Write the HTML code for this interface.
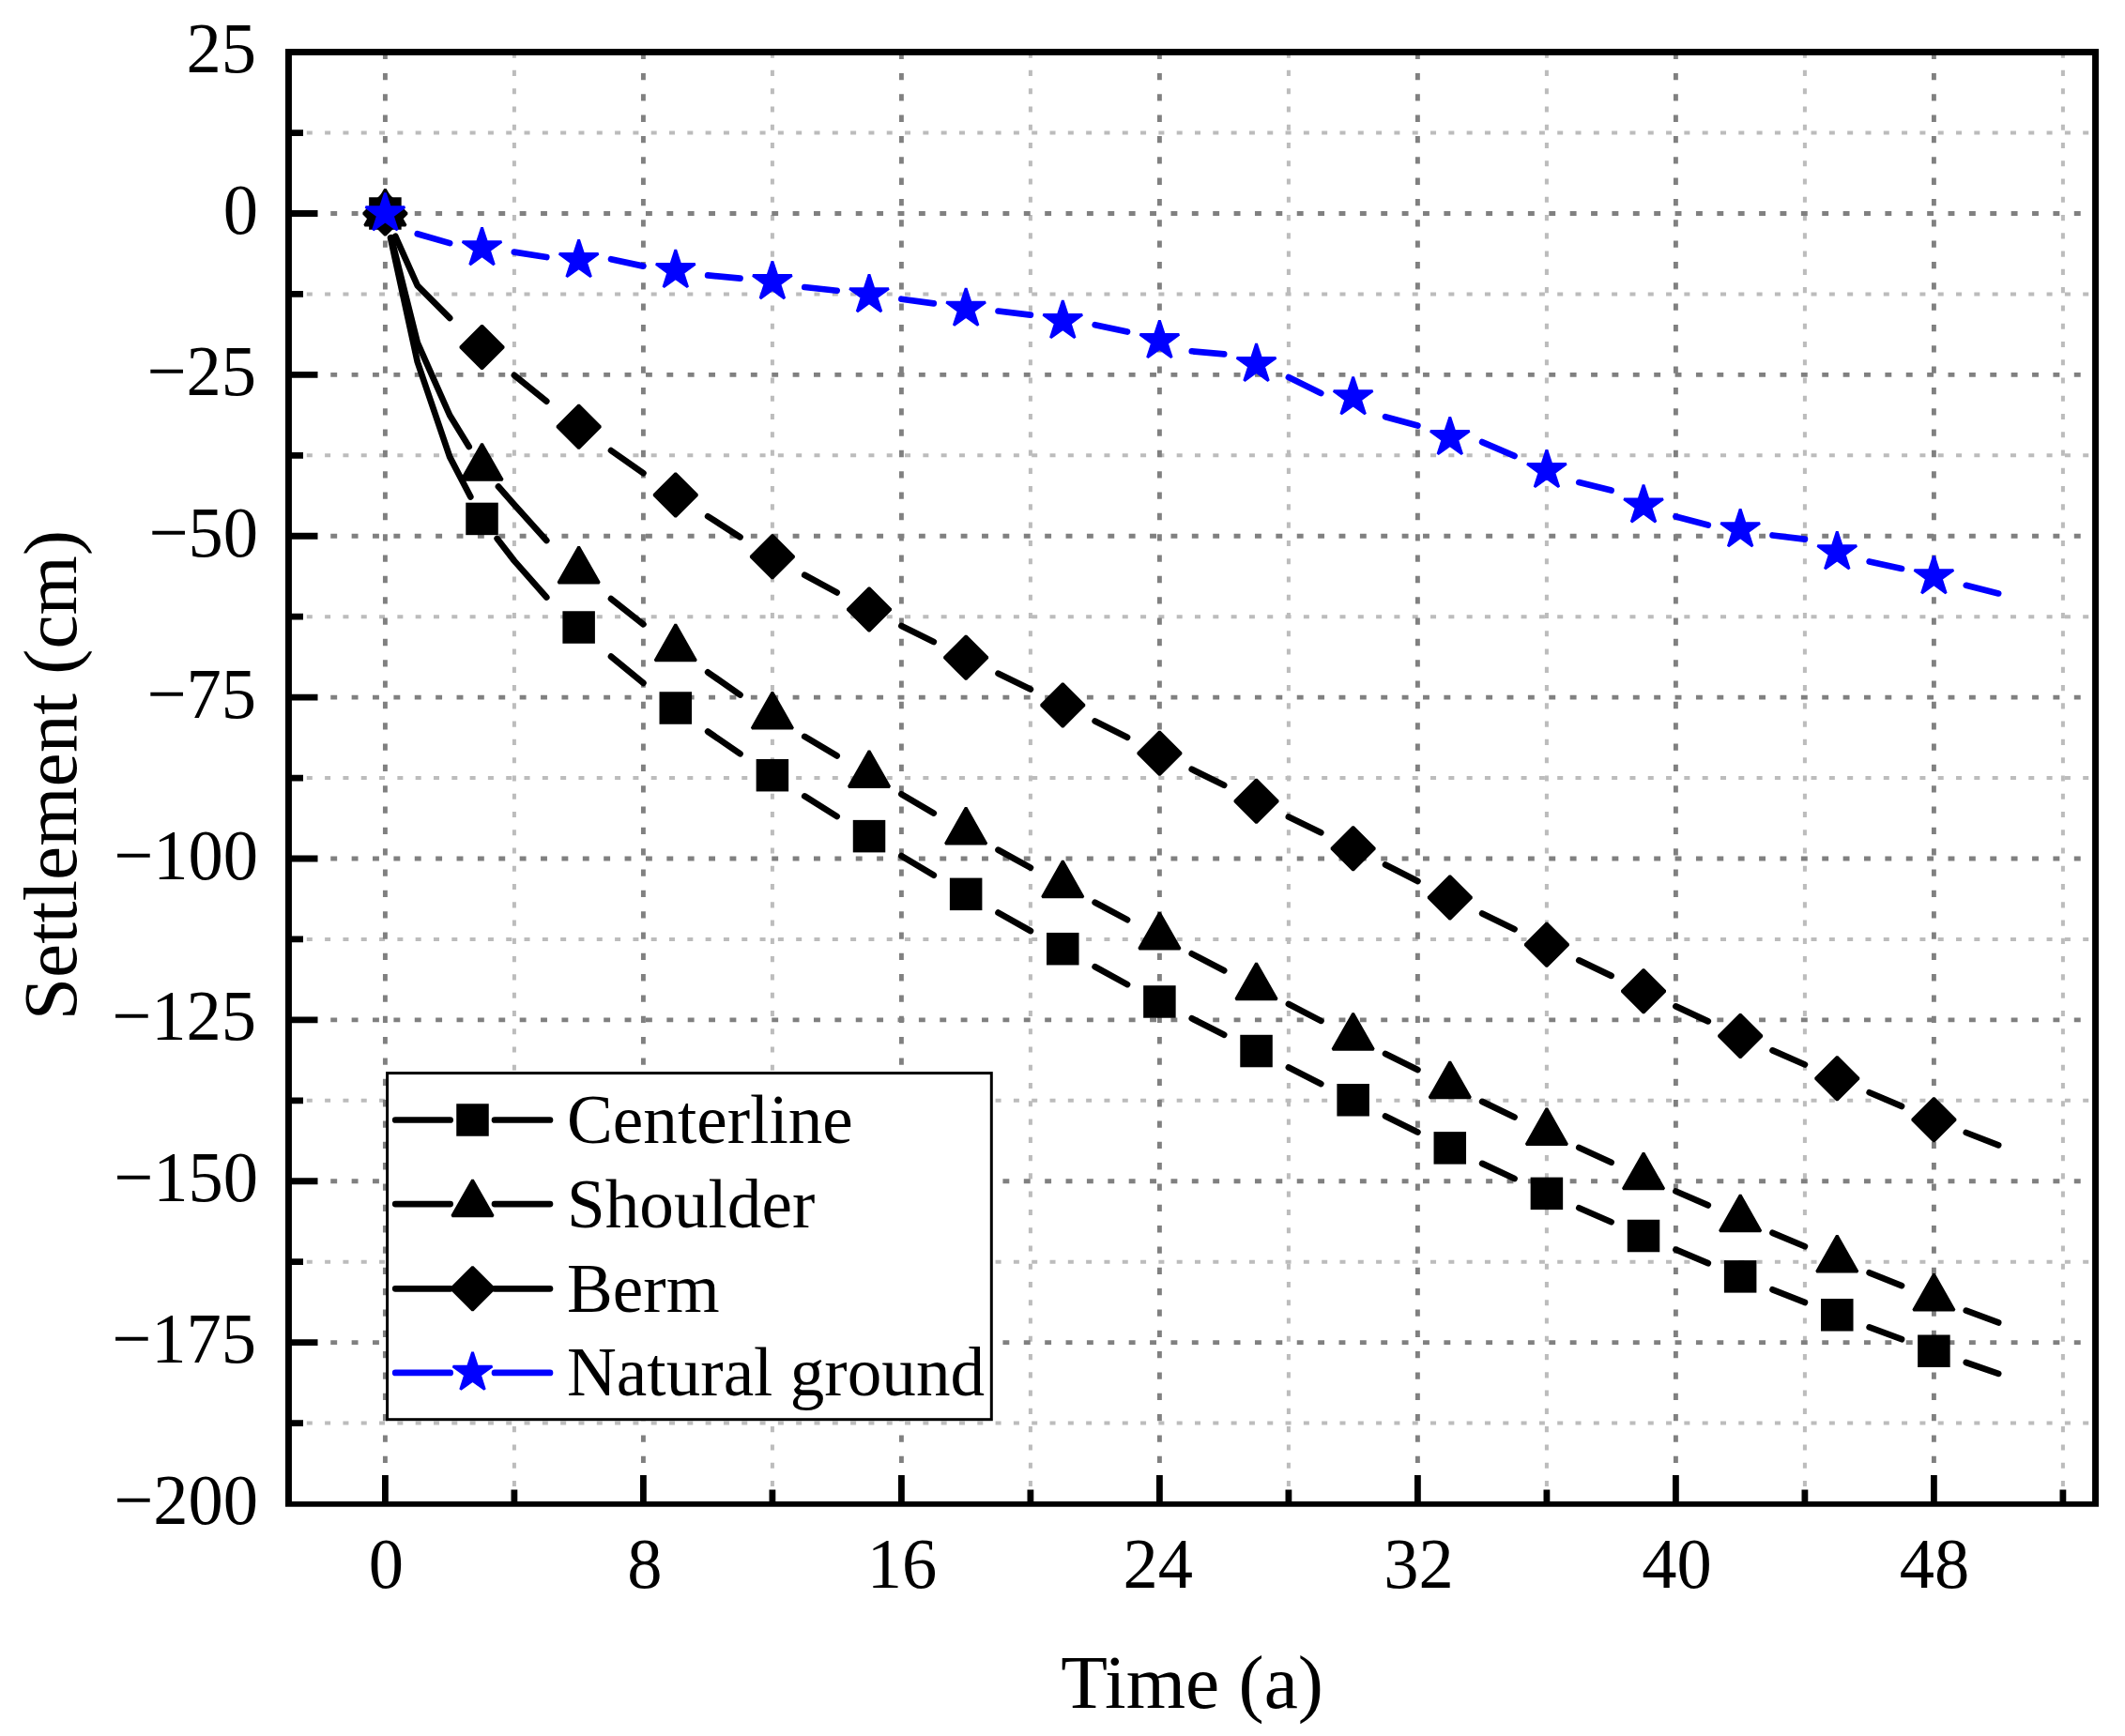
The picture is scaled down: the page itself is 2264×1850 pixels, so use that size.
<!DOCTYPE html>
<html><head><meta charset="utf-8"><title>Settlement vs Time</title>
<style>html,body{margin:0;padding:0;background:#fff}svg{display:block}text{font-family:"Liberation Serif",serif;fill:#000}</style>
</head><body>
<svg width="2264" height="1850" viewBox="0 0 2264 1850">
<rect width="2264" height="1850" fill="#fff"/>
<g fill="none"><path d="M307.5 1516.56H2232.5" stroke="#bcbcbc" stroke-width="4.0" stroke-dasharray="6.0 13.31"/><path d="M307.5 1344.69H2232.5" stroke="#bcbcbc" stroke-width="4.0" stroke-dasharray="6.0 13.31"/><path d="M307.5 1172.81H2232.5" stroke="#bcbcbc" stroke-width="4.0" stroke-dasharray="6.0 13.31"/><path d="M307.5 1000.94H2232.5" stroke="#bcbcbc" stroke-width="4.0" stroke-dasharray="6.0 13.31"/><path d="M307.5 829.06H2232.5" stroke="#bcbcbc" stroke-width="4.0" stroke-dasharray="6.0 13.31"/><path d="M307.5 657.19H2232.5" stroke="#bcbcbc" stroke-width="4.0" stroke-dasharray="6.0 13.31"/><path d="M307.5 485.31H2232.5" stroke="#bcbcbc" stroke-width="4.0" stroke-dasharray="6.0 13.31"/><path d="M307.5 313.44H2232.5" stroke="#bcbcbc" stroke-width="4.0" stroke-dasharray="6.0 13.31"/><path d="M307.5 141.56H2232.5" stroke="#bcbcbc" stroke-width="4.0" stroke-dasharray="6.0 13.31"/><path d="M547.90 55.6V1602.9" stroke="#bcbcbc" stroke-width="4.0" stroke-dasharray="6.1 13.17"/><path d="M822.90 55.6V1602.9" stroke="#bcbcbc" stroke-width="4.0" stroke-dasharray="6.1 13.17"/><path d="M1097.90 55.6V1602.9" stroke="#bcbcbc" stroke-width="4.0" stroke-dasharray="6.1 13.17"/><path d="M1372.90 55.6V1602.9" stroke="#bcbcbc" stroke-width="4.0" stroke-dasharray="6.1 13.17"/><path d="M1647.90 55.6V1602.9" stroke="#bcbcbc" stroke-width="4.0" stroke-dasharray="6.1 13.17"/><path d="M1922.90 55.6V1602.9" stroke="#bcbcbc" stroke-width="4.0" stroke-dasharray="6.1 13.17"/><path d="M2197.90 55.6V1602.9" stroke="#bcbcbc" stroke-width="4.0" stroke-dasharray="6.1 13.17"/><path d="M307.5 1430.62H2232.5" stroke="#808080" stroke-width="4.9" stroke-dasharray="6.9 15.48"/><path d="M307.5 1258.75H2232.5" stroke="#808080" stroke-width="4.9" stroke-dasharray="6.9 15.48"/><path d="M307.5 1086.88H2232.5" stroke="#808080" stroke-width="4.9" stroke-dasharray="6.9 15.48"/><path d="M307.5 915.00H2232.5" stroke="#808080" stroke-width="4.9" stroke-dasharray="6.9 15.48"/><path d="M307.5 743.12H2232.5" stroke="#808080" stroke-width="4.9" stroke-dasharray="6.9 15.48"/><path d="M307.5 571.25H2232.5" stroke="#808080" stroke-width="4.9" stroke-dasharray="6.9 15.48"/><path d="M307.5 399.38H2232.5" stroke="#808080" stroke-width="4.9" stroke-dasharray="6.9 15.48"/><path d="M307.5 227.50H2232.5" stroke="#808080" stroke-width="4.9" stroke-dasharray="6.9 15.48"/><path d="M410.40 55.6V1602.9" stroke="#808080" stroke-width="4.9" stroke-dasharray="7.3 15.03"/><path d="M685.40 55.6V1602.9" stroke="#808080" stroke-width="4.9" stroke-dasharray="7.3 15.03"/><path d="M960.40 55.6V1602.9" stroke="#808080" stroke-width="4.9" stroke-dasharray="7.3 15.03"/><path d="M1235.40 55.6V1602.9" stroke="#808080" stroke-width="4.9" stroke-dasharray="7.3 15.03"/><path d="M1510.40 55.6V1602.9" stroke="#808080" stroke-width="4.9" stroke-dasharray="7.3 15.03"/><path d="M1785.40 55.6V1602.9" stroke="#808080" stroke-width="4.9" stroke-dasharray="7.3 15.03"/><path d="M2060.40 55.6V1602.9" stroke="#808080" stroke-width="4.9" stroke-dasharray="7.3 15.03"/></g>
<path d="M307.5 1430.62h31M307.5 1258.75h31M307.5 1086.88h31M307.5 915.00h31M307.5 743.12h31M307.5 571.25h31M307.5 399.38h31M307.5 227.50h31M307.5 1516.56h15.5M307.5 1344.69h15.5M307.5 1172.81h15.5M307.5 1000.94h15.5M307.5 829.06h15.5M307.5 657.19h15.5M307.5 485.31h15.5M307.5 313.44h15.5M307.5 141.56h15.5M410.40 1602.9v-31M685.40 1602.9v-31M960.40 1602.9v-31M1235.40 1602.9v-31M1510.40 1602.9v-31M1785.40 1602.9v-31M2060.40 1602.9v-31M547.90 1602.9v-15.5M822.90 1602.9v-15.5M1097.90 1602.9v-15.5M1372.90 1602.9v-15.5M1647.90 1602.9v-15.5M1922.90 1602.9v-15.5M2197.90 1602.9v-15.5" stroke="#000" stroke-width="6.8" fill="none"/>
<path d="M303.97 52.02H2236V1605.75H303.97ZM310.95 58.91V1599.95H2229.05V58.91Z" fill="#000" fill-rule="evenodd"/>
<path d="M416.03 253.40L444.77 385.74L479.15 486.88L501.29 529.42M529.67 573.93L547.90 597.64L582.27 636.57M651.02 699.62L685.40 727.93M754.15 779.63L788.52 803.31M857.27 848.44L891.65 869.98M960.40 912.08L994.77 932.66M1063.53 972.63L1097.90 992.03M1166.65 1030.25L1201.03 1049.08M1269.78 1085.28L1304.15 1102.68M1372.90 1137.52L1407.28 1154.95M1476.03 1189.48L1510.40 1206.58M1579.15 1239.87L1613.53 1256.07M1682.28 1287.24L1716.65 1302.23M1785.40 1331.69L1819.78 1346.16M1888.53 1374.27L1922.90 1387.93M1991.65 1414.39L2026.03 1427.22M2094.78 1451.96L2129.15 1463.84" stroke="#000" stroke-width="6.7" fill="none" stroke-linecap="round" stroke-linejoin="round"/>
<rect x="394.55" y="211.65" width="31.7" height="31.7" fill="#000" stroke="#000" stroke-width="2.8"/><rect x="497.67" y="537.07" width="31.7" height="31.7" fill="#000" stroke="#000" stroke-width="2.8"/><rect x="600.80" y="652.66" width="31.7" height="31.7" fill="#000" stroke="#000" stroke-width="2.8"/><rect x="703.92" y="738.66" width="31.7" height="31.7" fill="#000" stroke="#000" stroke-width="2.8"/><rect x="807.05" y="810.35" width="31.7" height="31.7" fill="#000" stroke="#000" stroke-width="2.8"/><rect x="910.17" y="875.29" width="31.7" height="31.7" fill="#000" stroke="#000" stroke-width="2.8"/><rect x="1013.30" y="937.01" width="31.7" height="31.7" fill="#000" stroke="#000" stroke-width="2.8"/><rect x="1116.43" y="995.35" width="31.7" height="31.7" fill="#000" stroke="#000" stroke-width="2.8"/><rect x="1219.55" y="1051.63" width="31.7" height="31.7" fill="#000" stroke="#000" stroke-width="2.8"/><rect x="1322.68" y="1104.19" width="31.7" height="31.7" fill="#000" stroke="#000" stroke-width="2.8"/><rect x="1425.80" y="1156.41" width="31.7" height="31.7" fill="#000" stroke="#000" stroke-width="2.8"/><rect x="1528.93" y="1207.53" width="31.7" height="31.7" fill="#000" stroke="#000" stroke-width="2.8"/><rect x="1632.05" y="1256.03" width="31.7" height="31.7" fill="#000" stroke="#000" stroke-width="2.8"/><rect x="1735.18" y="1301.17" width="31.7" height="31.7" fill="#000" stroke="#000" stroke-width="2.8"/><rect x="1838.30" y="1344.51" width="31.7" height="31.7" fill="#000" stroke="#000" stroke-width="2.8"/><rect x="1941.43" y="1385.45" width="31.7" height="31.7" fill="#000" stroke="#000" stroke-width="2.8"/><rect x="2044.55" y="1423.91" width="31.7" height="31.7" fill="#000" stroke="#000" stroke-width="2.8"/>
<path d="M416.82 253.21L444.77 365.10L479.15 442.50L499.67 475.98M530.99 518.50L547.90 537.79L582.27 575.97M651.02 638.08L685.40 665.28M754.15 716.40L788.52 740.47M857.27 784.92L891.65 805.45M960.40 846.29L994.77 866.60M1063.53 905.73L1097.90 924.57M1166.65 961.77L1201.03 980.13M1269.78 1016.36L1304.15 1034.23M1372.90 1069.98L1407.28 1087.86M1476.03 1122.91L1510.40 1140.08M1579.15 1173.88L1613.53 1190.51M1682.28 1222.94L1716.65 1238.75M1785.40 1269.49L1819.78 1284.44M1888.53 1313.81L1922.90 1328.23M1991.65 1356.33L2026.03 1370.03M2094.78 1396.63L2129.15 1409.48" stroke="#000" stroke-width="6.7" fill="none" stroke-linecap="round" stroke-linejoin="round"/>
<path d="M410.40 201.80L432.20 240.20L388.60 240.20Z" fill="#000" stroke="#000" stroke-width="2.8" stroke-linejoin="bevel"/><path d="M513.52 472.87L535.32 511.27L491.72 511.27Z" fill="#000" stroke="#000" stroke-width="2.8" stroke-linejoin="bevel"/><path d="M616.65 582.61L638.45 621.01L594.85 621.01Z" fill="#000" stroke="#000" stroke-width="2.8" stroke-linejoin="bevel"/><path d="M719.77 665.51L741.57 703.91L697.98 703.91Z" fill="#000" stroke="#000" stroke-width="2.8" stroke-linejoin="bevel"/><path d="M822.90 737.68L844.70 776.08L801.10 776.08Z" fill="#000" stroke="#000" stroke-width="2.8" stroke-linejoin="bevel"/><path d="M926.02 800.08L947.82 838.48L904.23 838.48Z" fill="#000" stroke="#000" stroke-width="2.8" stroke-linejoin="bevel"/><path d="M1029.15 860.77L1050.95 899.17L1007.35 899.17Z" fill="#000" stroke="#000" stroke-width="2.8" stroke-linejoin="bevel"/><path d="M1132.28 917.53L1154.08 955.93L1110.48 955.93Z" fill="#000" stroke="#000" stroke-width="2.8" stroke-linejoin="bevel"/><path d="M1235.40 972.64L1257.20 1011.04L1213.60 1011.04Z" fill="#000" stroke="#000" stroke-width="2.8" stroke-linejoin="bevel"/><path d="M1338.53 1026.37L1360.33 1064.77L1316.73 1064.77Z" fill="#000" stroke="#000" stroke-width="2.8" stroke-linejoin="bevel"/><path d="M1441.65 1079.83L1463.45 1118.23L1419.85 1118.23Z" fill="#000" stroke="#000" stroke-width="2.8" stroke-linejoin="bevel"/><path d="M1544.78 1131.36L1566.58 1169.76L1522.98 1169.76Z" fill="#000" stroke="#000" stroke-width="2.8" stroke-linejoin="bevel"/><path d="M1647.90 1181.17L1669.70 1219.57L1626.10 1219.57Z" fill="#000" stroke="#000" stroke-width="2.8" stroke-linejoin="bevel"/><path d="M1751.03 1228.57L1772.83 1266.97L1729.23 1266.97Z" fill="#000" stroke="#000" stroke-width="2.8" stroke-linejoin="bevel"/><path d="M1854.15 1273.50L1875.95 1311.90L1832.35 1311.90Z" fill="#000" stroke="#000" stroke-width="2.8" stroke-linejoin="bevel"/><path d="M1957.28 1316.70L1979.08 1355.10L1935.48 1355.10Z" fill="#000" stroke="#000" stroke-width="2.8" stroke-linejoin="bevel"/><path d="M2060.40 1357.78L2082.20 1396.18L2038.60 1396.18Z" fill="#000" stroke="#000" stroke-width="2.8" stroke-linejoin="bevel"/>
<path d="M421.22 251.69L444.77 304.35L479.15 338.96M547.90 399.91L582.27 427.71M651.02 480.13L685.40 504.20M754.15 550.26L788.52 572.32M857.27 612.82L891.65 631.41M960.40 666.95L994.77 683.94M1063.53 717.73L1097.90 734.53M1166.65 768.50L1201.03 785.67M1269.78 819.85L1304.15 836.85M1372.90 870.55L1407.28 887.24M1476.03 921.50L1510.40 939.08M1579.15 973.40L1613.53 990.15M1682.28 1023.39L1716.65 1039.88M1785.40 1072.37L1819.78 1088.37M1888.53 1119.41L1922.90 1134.46M1991.65 1164.22L2026.03 1178.94M2094.78 1207.00L2129.15 1220.28" stroke="#000" stroke-width="6.7" fill="none" stroke-linecap="round" stroke-linejoin="round"/>
<path d="M410.40 204.50L433.40 227.50L410.40 250.50L387.40 227.50Z" fill="#000" stroke="#000" stroke-width="2.8" stroke-linejoin="bevel"/><path d="M513.52 347.05L536.52 370.05L513.52 393.05L490.52 370.05Z" fill="#000" stroke="#000" stroke-width="2.8" stroke-linejoin="bevel"/><path d="M616.65 431.82L639.65 454.82L616.65 477.82L593.65 454.82Z" fill="#000" stroke="#000" stroke-width="2.8" stroke-linejoin="bevel"/><path d="M719.77 504.47L742.77 527.47L719.77 550.47L696.77 527.47Z" fill="#000" stroke="#000" stroke-width="2.8" stroke-linejoin="bevel"/><path d="M822.90 570.24L845.90 593.24L822.90 616.24L799.90 593.24Z" fill="#000" stroke="#000" stroke-width="2.8" stroke-linejoin="bevel"/><path d="M926.02 626.45L949.02 649.45L926.02 672.45L903.02 649.45Z" fill="#000" stroke="#000" stroke-width="2.8" stroke-linejoin="bevel"/><path d="M1029.15 677.84L1052.15 700.84L1029.15 723.84L1006.15 700.84Z" fill="#000" stroke="#000" stroke-width="2.8" stroke-linejoin="bevel"/><path d="M1132.28 728.41L1155.28 751.41L1132.28 774.41L1109.28 751.41Z" fill="#000" stroke="#000" stroke-width="2.8" stroke-linejoin="bevel"/><path d="M1235.40 779.81L1258.40 802.81L1235.40 825.81L1212.40 802.81Z" fill="#000" stroke="#000" stroke-width="2.8" stroke-linejoin="bevel"/><path d="M1338.53 830.79L1361.53 853.79L1338.53 876.79L1315.53 853.79Z" fill="#000" stroke="#000" stroke-width="2.8" stroke-linejoin="bevel"/><path d="M1441.65 881.15L1464.65 904.15L1441.65 927.15L1418.65 904.15Z" fill="#000" stroke="#000" stroke-width="2.8" stroke-linejoin="bevel"/><path d="M1544.78 933.44L1567.78 956.44L1544.78 979.44L1521.78 956.44Z" fill="#000" stroke="#000" stroke-width="2.8" stroke-linejoin="bevel"/><path d="M1647.90 983.80L1670.90 1006.80L1647.90 1029.80L1624.90 1006.80Z" fill="#000" stroke="#000" stroke-width="2.8" stroke-linejoin="bevel"/><path d="M1751.03 1033.20L1774.03 1056.20L1751.03 1079.20L1728.03 1056.20Z" fill="#000" stroke="#000" stroke-width="2.8" stroke-linejoin="bevel"/><path d="M1854.15 1081.08L1877.15 1104.08L1854.15 1127.08L1831.15 1104.08Z" fill="#000" stroke="#000" stroke-width="2.8" stroke-linejoin="bevel"/><path d="M1957.28 1126.35L1980.28 1149.35L1957.28 1172.35L1934.28 1149.35Z" fill="#000" stroke="#000" stroke-width="2.8" stroke-linejoin="bevel"/><path d="M2060.40 1170.25L2083.40 1193.25L2060.40 1216.25L2037.40 1193.25Z" fill="#000" stroke="#000" stroke-width="2.8" stroke-linejoin="bevel"/>
<path d="M444.77 249.24L479.15 259.15M547.90 268.57L582.27 274.01M651.02 276.21L685.40 283.64M754.15 293.41L788.52 296.64M857.27 306.00L891.65 309.72M960.40 318.73L994.77 323.41M1063.53 331.53L1097.90 335.65M1166.65 346.18L1201.03 353.54M1269.78 374.25L1304.15 377.42M1372.90 402.11L1407.28 419.04M1476.03 444.22L1510.40 453.51M1579.15 471.05L1613.53 485.91M1682.28 514.12L1716.65 522.58M1785.40 550.45L1819.78 559.53M1888.53 570.47L1922.90 574.60M1991.65 598.47L2026.03 605.97M2094.78 623.86L2129.15 632.39" stroke="#0000ff" stroke-width="6.7" fill="none" stroke-linecap="round" stroke-linejoin="round"/>
<path d="M410.40 205.60L415.32 220.73L431.23 220.73L418.36 230.08L423.27 245.22L410.40 235.87L397.53 245.22L402.44 230.08L389.57 220.73L405.48 220.73Z" fill="#0000ff" stroke="#0000ff" stroke-width="2.8" stroke-linejoin="bevel"/><path d="M513.52 242.41L518.44 257.54L534.35 257.54L521.48 266.89L526.40 282.03L513.52 272.67L500.65 282.03L505.57 266.89L492.70 257.54L508.61 257.54Z" fill="#0000ff" stroke="#0000ff" stroke-width="2.8" stroke-linejoin="bevel"/><path d="M616.65 255.34L621.57 270.47L637.48 270.47L624.61 279.83L629.52 294.96L616.65 285.61L603.78 294.96L608.69 279.83L595.82 270.47L611.73 270.47Z" fill="#0000ff" stroke="#0000ff" stroke-width="2.8" stroke-linejoin="bevel"/><path d="M719.77 266.28L724.69 281.41L740.60 281.41L727.73 290.77L732.65 305.90L719.77 296.55L706.90 305.90L711.82 290.77L698.95 281.41L714.86 281.41Z" fill="#0000ff" stroke="#0000ff" stroke-width="2.8" stroke-linejoin="bevel"/><path d="M822.90 278.39L827.82 293.52L843.73 293.52L830.86 302.88L835.77 318.01L822.90 308.66L810.03 318.01L814.94 302.88L802.07 293.52L817.98 293.52Z" fill="#0000ff" stroke="#0000ff" stroke-width="2.8" stroke-linejoin="bevel"/><path d="M926.02 292.43L930.94 307.56L946.85 307.56L933.98 316.91L938.90 332.04L926.02 322.69L913.15 332.04L918.07 316.91L905.20 307.56L921.11 307.56Z" fill="#0000ff" stroke="#0000ff" stroke-width="2.8" stroke-linejoin="bevel"/><path d="M1029.15 307.08L1034.07 322.21L1049.98 322.21L1037.11 331.56L1042.02 346.70L1029.15 337.35L1016.28 346.70L1021.19 331.56L1008.32 322.21L1024.23 322.21Z" fill="#0000ff" stroke="#0000ff" stroke-width="2.8" stroke-linejoin="bevel"/><path d="M1132.28 320.29L1137.19 335.42L1153.10 335.42L1140.23 344.77L1145.15 359.91L1132.28 350.55L1119.40 359.91L1124.32 344.77L1111.45 335.42L1127.36 335.42Z" fill="#0000ff" stroke="#0000ff" stroke-width="2.8" stroke-linejoin="bevel"/><path d="M1235.40 341.34L1240.32 356.47L1256.23 356.47L1243.36 365.83L1248.27 380.96L1235.40 371.61L1222.53 380.96L1227.44 365.83L1214.57 356.47L1230.48 356.47Z" fill="#0000ff" stroke="#0000ff" stroke-width="2.8" stroke-linejoin="bevel"/><path d="M1338.53 366.18L1343.44 381.31L1359.35 381.31L1346.48 390.66L1351.40 405.80L1338.53 396.44L1325.65 405.80L1330.57 390.66L1317.70 381.31L1333.61 381.31Z" fill="#0000ff" stroke="#0000ff" stroke-width="2.8" stroke-linejoin="bevel"/><path d="M1441.65 401.61L1446.57 416.74L1462.48 416.74L1449.61 426.10L1454.52 441.23L1441.65 431.88L1428.78 441.23L1433.69 426.10L1420.82 416.74L1436.73 416.74Z" fill="#0000ff" stroke="#0000ff" stroke-width="2.8" stroke-linejoin="bevel"/><path d="M1544.78 444.34L1549.69 459.47L1565.60 459.47L1552.73 468.82L1557.65 483.95L1544.78 474.60L1531.90 483.95L1536.82 468.82L1523.95 459.47L1539.86 459.47Z" fill="#0000ff" stroke="#0000ff" stroke-width="2.8" stroke-linejoin="bevel"/><path d="M1647.90 479.36L1652.82 494.49L1668.73 494.49L1655.86 503.84L1660.77 518.97L1647.90 509.62L1635.03 518.97L1639.94 503.84L1627.07 494.49L1642.98 494.49Z" fill="#0000ff" stroke="#0000ff" stroke-width="2.8" stroke-linejoin="bevel"/><path d="M1751.03 516.64L1755.94 531.78L1771.85 531.78L1758.98 541.13L1763.90 556.26L1751.03 546.91L1738.15 556.26L1743.07 541.13L1730.20 531.78L1746.11 531.78Z" fill="#0000ff" stroke="#0000ff" stroke-width="2.8" stroke-linejoin="bevel"/><path d="M1854.15 542.44L1859.07 557.58L1874.98 557.58L1862.11 566.93L1867.02 582.06L1854.15 572.71L1841.28 582.06L1846.19 566.93L1833.32 557.58L1849.23 557.58Z" fill="#0000ff" stroke="#0000ff" stroke-width="2.8" stroke-linejoin="bevel"/><path d="M1957.28 566.52L1962.19 581.66L1978.10 581.66L1965.23 591.01L1970.15 606.14L1957.28 596.79L1944.40 606.14L1949.32 591.01L1936.45 581.66L1952.36 581.66Z" fill="#0000ff" stroke="#0000ff" stroke-width="2.8" stroke-linejoin="bevel"/><path d="M2060.40 592.46L2065.32 607.59L2081.23 607.59L2068.36 616.95L2073.27 632.08L2060.40 622.73L2047.53 632.08L2052.44 616.95L2039.57 607.59L2055.48 607.59Z" fill="#0000ff" stroke="#0000ff" stroke-width="2.8" stroke-linejoin="bevel"/>
<rect x="412.6" y="1143.6" width="643.7" height="369.1" fill="#fff" stroke="#000" stroke-width="3"/>
<path d="M421.2 1193.5H479.7M527 1193.5H586" stroke="#000" stroke-width="6.7" stroke-linecap="round" fill="none"/>
<rect x="487.65" y="1177.65" width="31.7" height="31.7" fill="#000" stroke="#000" stroke-width="2.8"/>
<text transform="translate(604 1217.8) scale(0.976 1)" font-size="75">Centerline</text>
<path d="M421.2 1283.1H479.7M527 1283.1H586" stroke="#000" stroke-width="6.7" stroke-linecap="round" fill="none"/>
<path d="M503.50 1257.40L525.30 1295.80L481.70 1295.80Z" fill="#000" stroke="#000" stroke-width="2.8" stroke-linejoin="bevel"/>
<text transform="translate(604 1307.8) scale(0.976 1)" font-size="75">Shoulder</text>
<path d="M421.2 1373.3H479.7M527 1373.3H586" stroke="#000" stroke-width="6.7" stroke-linecap="round" fill="none"/>
<path d="M503.50 1350.30L526.50 1373.30L503.50 1396.30L480.50 1373.30Z" fill="#000" stroke="#000" stroke-width="2.8" stroke-linejoin="bevel"/>
<text transform="translate(604 1397.7) scale(0.976 1)" font-size="75">Berm</text>
<path d="M421.2 1462.9H479.7M527 1462.9H586" stroke="#0000ff" stroke-width="6.7" stroke-linecap="round" fill="none"/>
<path d="M503.50 1441.00L508.42 1456.13L524.33 1456.13L511.46 1465.48L516.37 1480.62L503.50 1471.27L490.63 1480.62L495.54 1465.48L482.67 1456.13L498.58 1456.13Z" fill="#0000ff" stroke="#0000ff" stroke-width="2.8" stroke-linejoin="bevel"/>
<text transform="translate(604 1486.6) scale(0.976 1)" font-size="75">Natural ground</text>
<text transform="translate(275 1624.00) scale(0.972 1)" text-anchor="end" font-size="76.7">−200</text>
<text transform="translate(273 1452.12) scale(0.972 1)" text-anchor="end" font-size="76.7">−175</text>
<text transform="translate(275 1280.25) scale(0.972 1)" text-anchor="end" font-size="76.7">−150</text>
<text transform="translate(273 1108.38) scale(0.972 1)" text-anchor="end" font-size="76.7">−125</text>
<text transform="translate(275 936.50) scale(0.972 1)" text-anchor="end" font-size="76.7">−100</text>
<text transform="translate(273 764.62) scale(0.972 1)" text-anchor="end" font-size="76.7">−75</text>
<text transform="translate(275 592.75) scale(0.972 1)" text-anchor="end" font-size="76.7">−50</text>
<text transform="translate(273 420.88) scale(0.972 1)" text-anchor="end" font-size="76.7">−25</text>
<text transform="translate(275 249.00) scale(0.972 1)" text-anchor="end" font-size="76.7">0</text>
<text transform="translate(273 77.12) scale(0.972 1)" text-anchor="end" font-size="76.7">25</text>
<text transform="translate(411.40 1692.2) scale(0.972 1)" text-anchor="middle" font-size="76.7">0</text>
<text transform="translate(686.80 1692.2) scale(0.972 1)" text-anchor="middle" font-size="76.7">8</text>
<text transform="translate(961.00 1692.2) scale(0.972 1)" text-anchor="middle" font-size="76.7">16</text>
<text transform="translate(1233.70 1692.2) scale(0.972 1)" text-anchor="middle" font-size="76.7">24</text>
<text transform="translate(1511.55 1692.2) scale(0.972 1)" text-anchor="middle" font-size="76.7">32</text>
<text transform="translate(1786.50 1692.2) scale(0.972 1)" text-anchor="middle" font-size="76.7">40</text>
<text transform="translate(2060.95 1692.2) scale(0.972 1)" text-anchor="middle" font-size="76.7">48</text>
<text transform="translate(1270.1 1820) scale(1.018 1)" text-anchor="middle" font-size="80">Time (a)</text>
<text transform="translate(80.5 826.1) rotate(-90) scale(1.018 1)" text-anchor="middle" font-size="80">Settlement (cm)</text>
</svg>
</body></html>
